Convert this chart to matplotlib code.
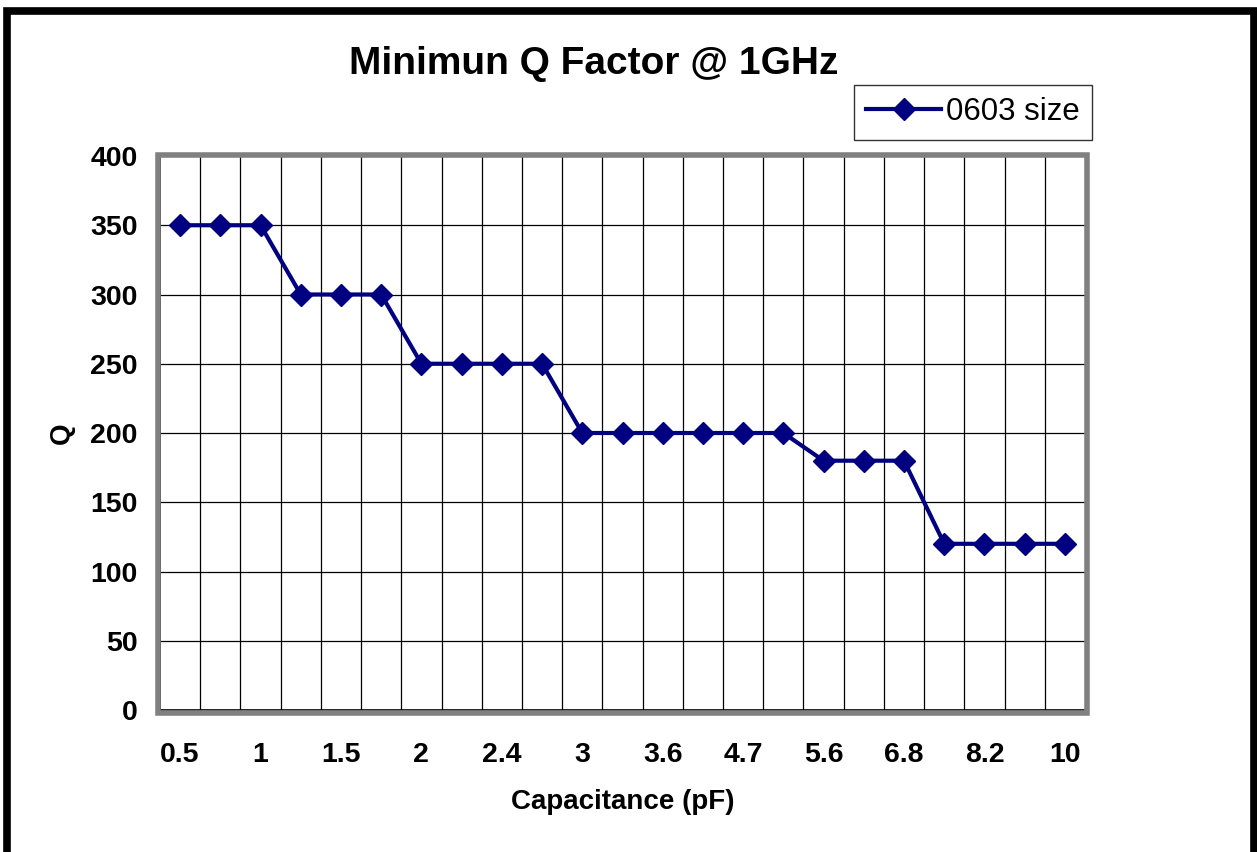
import matplotlib
matplotlib.use("Agg")
import matplotlib.pyplot as plt
from matplotlib.patches import Rectangle
from matplotlib.lines import Line2D

plt.rcParams['font.family'] = ['Liberation Sans', 'DejaVu Sans']

categories = ["0.5", "0.75", "1", "1.2", "1.5", "1.8", "2", "2.2", "2.4", "2.7",
              "3", "3.3", "3.6", "3.9", "4.7", "5.1", "5.6", "6.2", "6.8", "7.5",
              "8.2", "9.1", "10"]
q_values = [350, 350, 350, 300, 300, 300, 250, 250, 250, 250,
            200, 200, 200, 200, 200, 200, 180, 180, 180, 120,
            120, 120, 120]
series_name = "0603 size"
y_ticks = [0, 50, 100, 150, 200, 250, 300, 350, 400]

W, H = 1257, 852
fig = plt.figure(figsize=(W / 100, H / 100), dpi=100)

# axes position in pixels
x0, x1 = 160, 1085
y_top, y_bot = 156, 710
ax = fig.add_axes([x0 / W, 1 - y_bot / H, (x1 - x0) / W, (y_bot - y_top) / H])

n = len(categories)
xs = list(range(n))
ax.plot(xs, q_values, color='#000080', lw=3.0, marker='D', markersize=11.5,
        markerfacecolor='#000080', markeredgecolor='#000080', zorder=5,
        label=series_name)

ax.set_xlim(-0.5, n - 0.5)
ax.set_ylim(0, 400)
ax.set_yticks(y_ticks)
ax.set_yticklabels([str(v) for v in y_ticks], fontsize=20.5, fontweight='bold')

# category labels every other category
ax.set_xticks(xs[::2])
ax.set_xticklabels(categories[::2], fontsize=20.5, fontweight='bold')
ax.tick_params(axis='x', length=0, pad=23)
ax.tick_params(axis='y', length=0, pad=16)

# gridlines
for v in y_ticks[1:-1]:
    ax.axhline(v, color='black', lw=0.9, zorder=1)
for i in range(1, n):
    ax.axvline(i - 0.5, color='black', lw=0.9, zorder=1)

for s in ['top', 'right']:
    ax.spines[s].set_visible(False)
for s in ['left', 'bottom']:
    ax.spines[s].set_color('black')
    ax.spines[s].set_linewidth(1.2)

# gray plot-area frame
fig.patches.append(Rectangle((157.5 / W, 1 - 712.5 / H), (1086.5 - 157.5) / W,
                             (712.5 - 154.5) / H, transform=fig.transFigure,
                             fill=False, edgecolor='#808080', lw=4, zorder=0))

ax.set_xlabel("Capacitance (pF)", fontsize=20, fontweight='bold', labelpad=15)
ax.set_ylabel("Q", fontsize=20, fontweight='bold', labelpad=11)

fig.text(594 / W, 1 - 64 / H, "Minimun Q Factor @ 1GHz", fontsize=28,
         fontweight='bold', ha='center', va='center')

leg = fig.legend(handles=[Line2D([], [], color='#000080', lw=3.0, marker='D',
                                 markersize=11.5)],
                 labels=[series_name], loc='center',
                 bbox_to_anchor=(973 / W, 1 - 112 / H), fontsize=22.5,
                 frameon=True, fancybox=False, handlelength=2.4,
                 handletextpad=0.15, borderpad=0.4, borderaxespad=0)
leg.get_frame().set_edgecolor('black')
leg.get_frame().set_linewidth(1)

# outer black border
fig.patches.append(Rectangle((6.5 / W, -0.05), (1253.5 - 6.5) / W, 1 - 10.5 / H + 0.05,
                             transform=fig.transFigure, fill=False,
                             edgecolor='black', lw=5.5, zorder=0))

fig.savefig("out.png", dpi=100)
